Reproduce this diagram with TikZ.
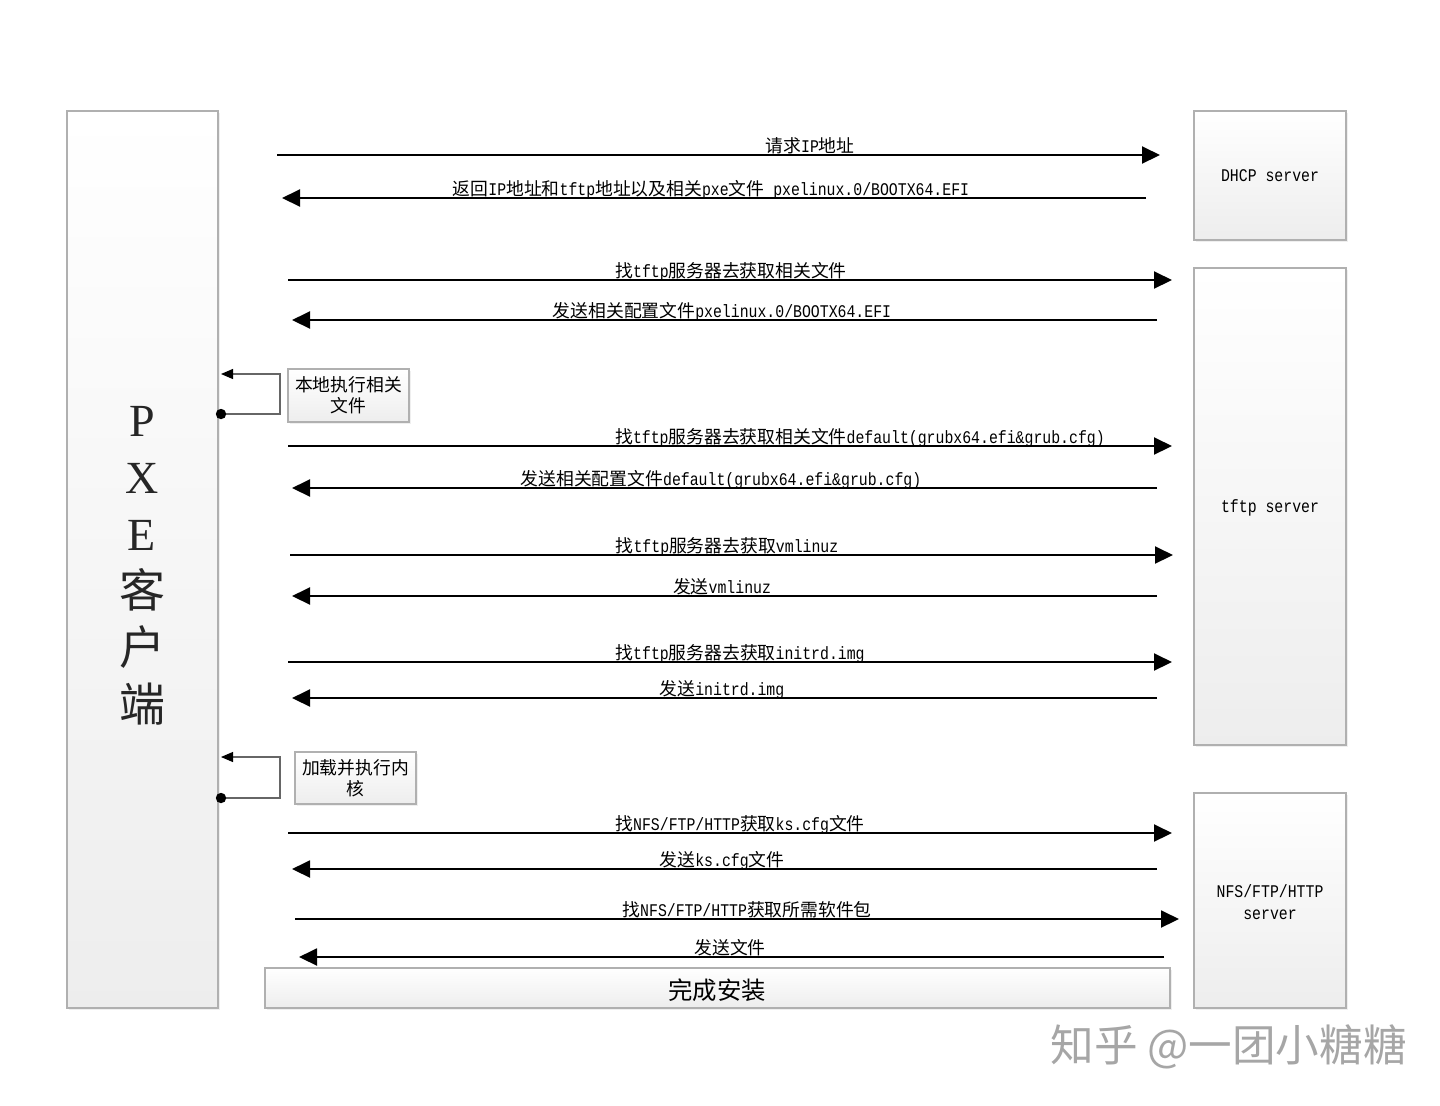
\documentclass[tikz,border=0pt]{standalone}
\usepackage{fontspec}
\setmainfont{Liberation Serif}
\newfontfamily\cjk{Noto Sans CJK SC}
\newfontfamily\lat[FakeStretch=0.8333]{Liberation Mono}
\usetikzlibrary{arrows.meta,shadows,fit}
\newcommand\zh[1]{{\cjk #1}}
\definecolor{boxline}{HTML}{B0B0B0}
\begin{document}
\begin{tikzpicture}[x=0.5pt,y=-0.5pt,
 box/.style={draw=boxline,line width=0.6pt,top color=white,bottom color=black!7,
   drop shadow={shadow xshift=1.2pt,shadow yshift=-1.2pt,fill=black!12},inner sep=0pt},
 msg/.style={line width=1pt,-{Triangle[length=9pt,width=8.5pt]}},
 lbl/.style={anchor=base,inner sep=0pt,font=\lat\fontsize{8.9}{10}\selectfont},
 srv/.style={align=center,inner sep=0pt,font=\lat\fontsize{8.9}{11}\selectfont},
 selfloop/.style={draw=black!60,line width=0.6pt,
   -{Triangle[length=6pt,width=5pt,color=black]}},
 dot/.style={fill=black},
 note/.style={align=center,inner sep=0pt,font=\cjk\fontsize{8.9}{10.5}\selectfont},
]
\useasboundingbox (0,0) rectangle (1440,1105);

% boxes
\node[box,fit={(67,111)(218,1008)}] (pxe) {};
\node[box,fit={(1194,111)(1346,240)}] (dhcp) {};
\node[box,fit={(1194,268)(1346,745)}] (tftp) {};
\node[box,fit={(1194,793)(1346,1008)}] (nfs) {};
\node[box,fit={(265,968)(1170,1008)}] (done) {};
\node[box,fit={(288,369)(409,422)}] (local) {};
\node[box,fit={(295,752)(416,804)}] (kern) {};

% box texts
\node[align=center,inner sep=0pt,text=black!85,font=\fontsize{23}{28.5}\selectfont] (pxet) at (142,566)
  {P\\X\\E\\\zh{客}\\\zh{户}\\\zh{端}};
\node[srv] (dhcpt) at (1270,176) {DHCP server};
\node[srv] (tftpt) at (1270,508) {tftp server};
\node[srv] (nfst) at (1270,902) {NFS/FTP/HTTP\\server};
\node[inner sep=0pt,font=\cjk\fontsize{12.2}{14}\selectfont] (donet) at (717,990) {完成安装};
\node[note] (localt) at (348.5,395.5) {本地执行相关\\文件};
\node[note] (kernt) at (355.5,778) {加载并执行内\\核};

% coordinates for message ends
\coordinate (s1) at (277,155);  \coordinate (e1) at (1160,155);
\coordinate (s2) at (1146,198); \coordinate (e2) at (282,198);
\coordinate (s3) at (288,280);  \coordinate (e3) at (1172,280);
\coordinate (s4) at (1157,320); \coordinate (e4) at (292,320);
\coordinate (s5) at (288,446);  \coordinate (e5) at (1172,446);
\coordinate (s6) at (1157,488); \coordinate (e6) at (292,488);
\coordinate (s7) at (290,555);  \coordinate (e7) at (1173,555);
\coordinate (s8) at (1157,596); \coordinate (e8) at (292,596);
\coordinate (s9) at (288,662);  \coordinate (e9) at (1172,662);
\coordinate (s10) at (1157,698); \coordinate (e10) at (292,698);
\coordinate (s11) at (288,833);  \coordinate (e11) at (1172,833);
\coordinate (s12) at (1157,869); \coordinate (e12) at (292,869);
\coordinate (s13) at (295,919);  \coordinate (e13) at (1179,919);
\coordinate (s14) at (1164,957); \coordinate (e14) at (299,957);

\foreach \i in {1,...,14} { \draw[msg] (s\i) -- (e\i); }

% labels
\node[lbl] (l1) at (810,152) {\zh{请求}IP\zh{地址}};
\node[lbl] (l2) at (711,195) {\zh{返回}IP\zh{地址和}tftp\zh{地址以及相关}pxe\zh{文件} pxelinux.0/BOOTX64.EFI};
\node[lbl] (l3) at (731,277) {\zh{找}tftp\zh{服务器去获取相关文件}};
\node[lbl] (l4) at (722,317) {\zh{发送相关配置文件}pxelinux.0/BOOTX64.EFI};
\node[lbl] (l5) at (860,443) {\zh{找}tftp\zh{服务器去获取相关文件}default(grubx64.efi\&grub.cfg)};
\node[lbl] (l6) at (721,485) {\zh{发送相关配置文件}default(grubx64.efi\&grub.cfg)};
\node[lbl] (l7) at (727,552) {\zh{找}tftp\zh{服务器去获取}vmlinuz};
\node[lbl] (l8) at (722,593) {\zh{发送}vmlinuz};
\node[lbl] (l9) at (740,659) {\zh{找}tftp\zh{服务器去获取}initrd.img};
\node[lbl] (l10) at (722,695) {\zh{发送}initrd.img};
\node[lbl] (l11) at (740,830) {\zh{找}NFS/FTP/HTTP\zh{获取}ks.cfg\zh{文件}};
\node[lbl] (l12) at (722,866) {\zh{发送}ks.cfg\zh{文件}};
\node[lbl] (l13) at (747,916) {\zh{找}NFS/FTP/HTTP\zh{获取所需软件包}};
\node[lbl] (l14) at (730,954) {\zh{发送文件}};

% self loops
\coordinate (d1) at (221,414); \coordinate (t1) at (221,374);
\coordinate (d2) at (221,798); \coordinate (t2) at (221,757);
\draw[selfloop] (d1) -- (280,414) -- (280,374) -- (t1);
\draw[selfloop] (d2) -- (280,798) -- (280,757) -- (t2);
\fill[dot] (d1) circle (2.6pt);
\fill[dot] (d2) circle (2.6pt);

% watermark
\node[anchor=west,inner sep=0pt,text=black!35,font=\cjk\fontsize{21.8}{24}\selectfont] (wm) at (1050,1047) {知乎 @一团小糖糖};
\end{tikzpicture}
\end{document}
